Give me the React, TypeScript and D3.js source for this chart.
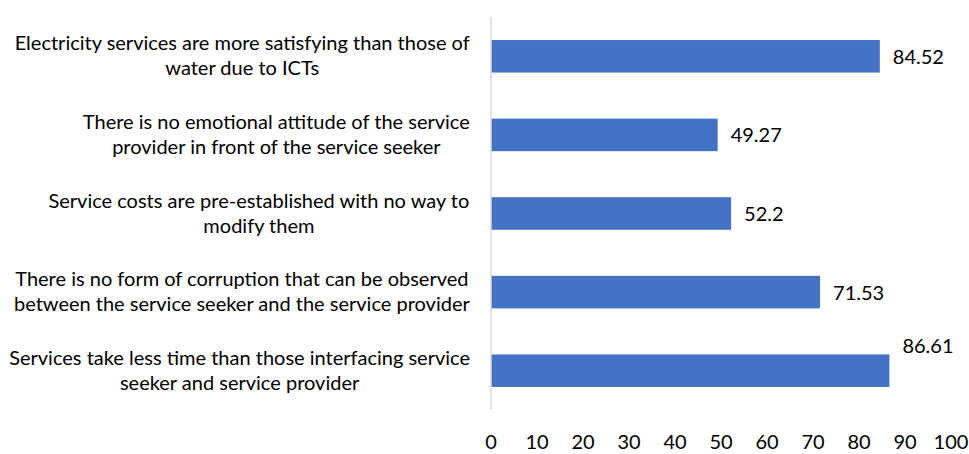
import React from "react";
import * as d3 from "d3";

const categories: string[][] = [
  ["Electricity services are more satisfying than those of", "water due to ICTs"],
  ["There is no emotional attitude of the service", "provider in front of the service seeker"],
  ["Service costs are pre-established with no way to", "modify them"],
  ["There is no form of corruption that can be observed", "between the service seeker and the service provider"],
  ["Services take less time than those interfacing service", "seeker and service provider"],
];
const values: number[] = [84.52, 49.27, 52.2, 71.53, 86.61];
const valueLabels: string[] = ["84.52", "49.27", "52.2", "71.53", "86.61"];
const ticks: number[] = [0, 10, 20, 30, 40, 50, 60, 70, 80, 90, 100];

const W = 969;
const H = 454;
const FONT = "Lato, Carlito, Calibri, sans-serif";
const FS = 20;

let ctx: CanvasRenderingContext2D | null = null;
function measure(t: string): number {
  if (!ctx) {
    const c = document.createElement("canvas");
    ctx = c.getContext("2d");
  }
  if (!ctx) return t.length * 9;
  ctx.font = `${FS}px ${FONT}`;
  return ctx.measureText(t).width;
}

export default function App() {
  const x = d3.scaleLinear().domain([0, 100]).range([491, 951]);
  const idx = categories.map((_, i) => String(i));
  const y = d3
    .scaleBand<string>()
    .domain(idx)
    .range([17, 410])
    .paddingInner(0.586)
    .paddingOuter(0.293);
  const labelRight = 470;

  return (
    <svg
      width={W}
      height={H}
      style={{ position: "absolute", left: 0, top: 0, background: "#fff" }}
      fontFamily={FONT}
    >
      <rect width={W} height={H} fill="#fff" />
      {values.map((v, i) => {
        const y0 = y(String(i))!;
        const bw = y.bandwidth();
        const x1 = x(v);
        const lw = measure(valueLabels[i]);
        const outside = x1 + 13 + lw > 945;
        const lx = x1 + 13;
        const ly = outside ? y0 - 1 : y0 + bw / 2 + 7.5;
        return (
          <g key={i}>
            <rect x={x(0)} y={y0} width={x1 - x(0)} height={bw} fill="#4472C4" />
            <text x={lx} y={ly} fontSize={FS} fill="#000">
              {valueLabels[i]}
            </text>
          </g>
        );
      })}
      <line x1={x(0)} x2={x(0)} y1={17} y2={410} stroke="#d9d9d9" strokeWidth={1.5} />
      {categories.map((lines, i) => {
        const c = y(String(i))! + y.bandwidth() / 2;
        const maxW = Math.max(...lines.map(measure));
        const cx = labelRight - maxW / 2;
        return (
          <text key={i} x={cx} textAnchor="middle" fontSize={FS} fill="#000">
            {lines.map((l, j) => (
              <tspan key={j} x={cx} y={c - 6 + j * 25}>
                {l}
              </tspan>
            ))}
          </text>
        );
      })}
      {ticks.map((t) => (
        <text key={t} x={x(t)} y={449} textAnchor="middle" fontSize={FS} fill="#000">
          {t}
        </text>
      ))}
    </svg>
  );
}
